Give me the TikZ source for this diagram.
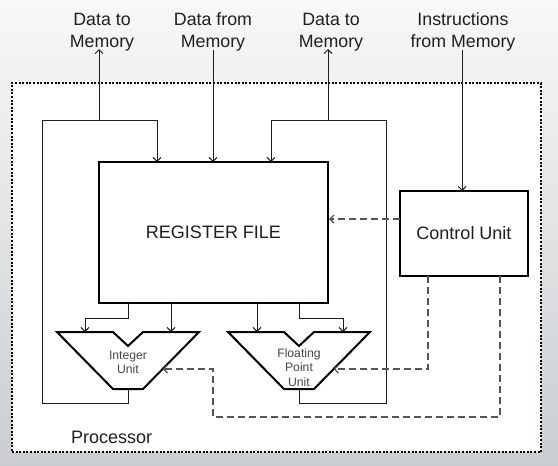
\documentclass[tikz,border=0pt]{standalone}
\usepackage{fontspec}
\setmainfont{Liberation Sans}
\usetikzlibrary{arrows.meta}
\definecolor{wire}{HTML}{1E1E1E}
\definecolor{dashc}{HTML}{555555}
\definecolor{bgtop}{HTML}{F8F8F8}
\definecolor{bgbot}{HTML}{CACED1}
\begin{document}
\begin{tikzpicture}[x=1pt,y=-1pt,
  barb/.style={-{Straight Barb[length=4pt,width=8pt]}},
  wirearrow/.style={draw=wire, line width=0.9pt, barb},
  ctrl/.style={draw=dashc, line width=1.3pt, dash pattern=on 7pt off 4pt, barb},
  boldbox/.style={draw=black, line width=2pt, fill=white, inner sep=0pt},
  toplabel/.style={align=center, font=\fontsize{17.8}{22.5}\selectfont, text=black!88, inner sep=1pt},
  biglabel/.style={font=\fontsize{18}{22}\selectfont, text=black!88},
  unitlabel/.style={align=center, font=\fontsize{12.2}{14.2}\selectfont, text=black!72, inner sep=0pt},
  unitshape/.style={draw=black, line width=2pt, fill=white, line join=miter},
  procbox/.style={draw=black, line width=1.6pt, dash pattern=on 2pt off 1.6pt, fill=white, inner sep=0pt},
]
% background
\shade[top color=bgtop, bottom color=bgbot] (0,0) rectangle (558,466);
\useasboundingbox (0,0) rectangle (558,466);

% processor frame
\node[procbox, minimum width=529pt, minimum height=369pt] (proc) at (276.5,267.5) {};
\node[biglabel, anchor=base west, inner sep=0pt] (proclab) at (71,443) {Processor};

% top labels
\node[toplabel] (lab1) at (102,32) {Data to\\Memory};
\node[toplabel] (lab2) at (213,32) {Data from\\Memory};
\node[toplabel] (lab3) at (331,32) {Data to\\Memory};
\node[toplabel] (lab4) at (463,32) {Instructions\\from Memory};

% register file and control unit
\node[boldbox, minimum width=229pt, minimum height=141pt, biglabel] (reg) at (213.5,232.5) {REGISTER FILE};
\node[boldbox, minimum width=128pt, minimum height=85pt, biglabel] (cu) at (464,233.5) {Control Unit};

% integer unit
\draw[unitshape] (57,332) -- (113,332) -- (128,346) -- (143,332) -- (199,332) -- (143,389) -- (113,389) -- cycle;
\node[unitlabel] (iu) at (128,362) {Integer\\Unit};
% floating point unit
\draw[unitshape] (228,332) -- (284,332) -- (299,346) -- (314,332) -- (370,332) -- (314,389) -- (284,389) -- cycle;
\node[unitlabel] (fpu) at (299,367.5) {Floating\\Point\\Unit};

% named ports
\coordinate (iin1) at (85,332);
\coordinate (iin2) at (171,332);
\coordinate (iout) at (128,389);
\coordinate (ictl) at (162.6,369);
\coordinate (fin1) at (257,332);
\coordinate (fin2) at (343,332);
\coordinate (fout) at (299,389);
\coordinate (fctl) at (333.6,369);
\coordinate (r1) at (128,303);
\coordinate (r2) at (171,303);
\coordinate (r3) at (257,303);
\coordinate (r4) at (299,303);
\coordinate (rin1) at (157,162);
\coordinate (rin2) at (213,162);
\coordinate (rin3) at (271,162);
\coordinate (tapL) at (99,120);
\coordinate (tapR) at (328,120);
\coordinate (m1) at (99,49);
\coordinate (m2) at (213,50);
\coordinate (m3) at (328,49);
\coordinate (m4) at (462,50);
\coordinate (cuin) at (462,191);
\coordinate (cuo1) at (400,219);
\coordinate (cub1) at (428,276);
\coordinate (cub2) at (500,276);

% register file to units
\draw[wirearrow] (r1) -- ++(0,15) -| (iin1);
\draw[wirearrow] (r2) -- (iin2);
\draw[wirearrow] (r3) -- (fin1);
\draw[wirearrow] (r4) -- ++(0,15) -| (fin2);

% unit outputs back to register file / memory
\draw[wirearrow] (iout) |- (42,403) -- (42,120) -| (rin1);
\draw[wirearrow] (tapL) -- (m1);
\draw[wirearrow] (fout) |- (386,403) -- (386,120) -| (rin3);
\draw[wirearrow] (tapR) -- (m3);

% memory inputs
\draw[wirearrow] (m2) -- (rin2);
\draw[wirearrow] (m4) -- (cuin);

% control signals
\draw[ctrl] (cuo1) -- (cuo1 -| reg.east);
\draw[ctrl] (cub1) |- (fctl);
\draw[ctrl] (cub2) |- (213,417) |- (ictl);
\end{tikzpicture}
\end{document}
